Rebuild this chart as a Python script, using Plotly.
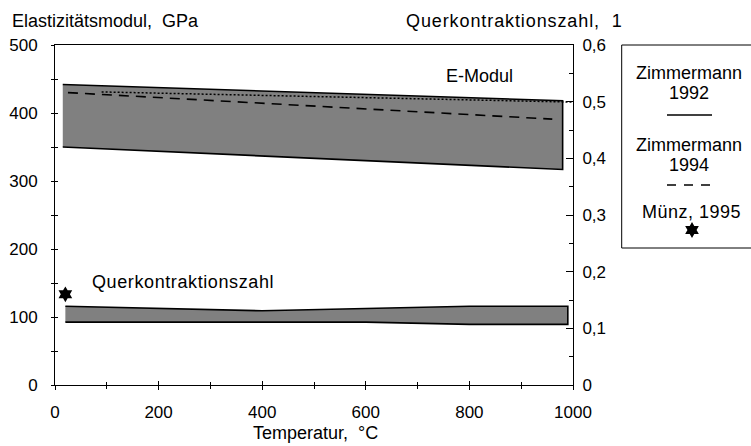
import plotly.graph_objects as go

# Elastizitätsmodul band (GPa) versus temperature (°C)
e_temp = [15, 980]
e_upper = [442, 418]
e_lower = [350, 317]

# Zimmermann 1994 (dashed) and an additional dotted curve, GPa
z94_temp = [25, 960]
z94_e = [430, 391]
dot_temp = [90, 1000]
dot_e = [431, 416]

# Querkontraktionszahl band (dimensionless)
nu_temp_upper = [20, 400, 800, 990]
nu_upper = [0.139, 0.131, 0.139, 0.139]
nu_temp_lower = [20, 600, 800, 990]
nu_lower = [0.111, 0.111, 0.107, 0.107]

# Münz, 1995
muenz_temp = [20]
muenz_nu = [0.16]

# Axis ticks
x_ticks = [0, 200, 400, 600, 800, 1000]
x_minor = [100, 300, 500, 700, 900]
y_ticks = [0, 100, 200, 300, 400, 500]
y_minor = [50, 150, 250, 350, 450]
nu_ticks = [0, 0.1, 0.2, 0.3, 0.4, 0.5, 0.6]
nu_ticktext = ["0", "0,1", "0,2", "0,3", "0,4", "0,5", "0,6"]
nu_minor = [0.05, 0.15, 0.25, 0.35, 0.45, 0.55]

FONT = "Liberation Sans, Arial, sans-serif"
FS = 17      # tick labels
FT = 18      # titles and labels
W, H = 751, 446
ML, MT, MB = 55, 45, 61
PW, PH = W - ML, H - MT - MB
XDOM = 518 / PW

fig = go.Figure()

# E-Modul band as a closed polygon
fig.add_trace(go.Scatter(
    x=e_temp + e_temp[::-1], y=e_upper + e_lower[::-1],
    fill="toself", fillcolor="#808080", mode="lines",
    line=dict(color="black", width=1.6), xaxis="x2", yaxis="y3",
    hoverinfo="skip", showlegend=False))
fig.add_trace(go.Scatter(
    x=dot_temp, y=dot_e, mode="lines",
    line=dict(color="black", width=1.5, dash="2px,2px"),
    xaxis="x2", yaxis="y3", showlegend=False))
fig.add_trace(go.Scatter(
    x=z94_temp, y=z94_e, mode="lines",
    line=dict(color="black", width=1.6, dash="10px,7px"),
    xaxis="x2", yaxis="y3", showlegend=False))

# Querkontraktionszahl band on the right axis
fig.add_trace(go.Scatter(
    x=nu_temp_upper + nu_temp_lower[::-1], y=nu_upper + nu_lower[::-1],
    fill="toself", fillcolor="#808080", mode="lines",
    line=dict(color="black", width=1.6), xaxis="x", yaxis="y2",
    hoverinfo="skip", showlegend=False))
fig.add_trace(go.Scatter(
    x=muenz_temp, y=muenz_nu, mode="markers",
    marker=dict(symbol="hexagram", size=12, color="black"),
    xaxis="x", yaxis="y2", showlegend=False))

# Legend sample star, in a frame measured in pixels
fig.add_trace(go.Scatter(
    x=[692], y=[230], mode="markers",
    marker=dict(symbol="hexagram", size=12, color="black"),
    xaxis="x4", yaxis="y4", showlegend=False))

axis_common = dict(showgrid=False, zeroline=False, linecolor="black", automargin=False,
                   tickcolor="black", tickfont=dict(family=FONT, size=FS, color="black"))

fig.update_layout(
    width=W, height=H, margin=dict(l=ML, r=0, t=MT, b=MB, autoexpand=False),
    paper_bgcolor="white", plot_bgcolor="white",
    font=dict(family=FONT, size=FS, color="black"),
    xaxis=dict(domain=[0, XDOM], range=[0, 1000], anchor="y",
               tickmode="array", tickvals=x_ticks, ticks="outside", ticklen=4,
               minor=dict(tickmode="array", tickvals=x_minor, ticks="outside", ticklen=3, tickcolor="black"),
               showline=True, mirror=True, linewidth=1, ticklabelstandoff=8, **axis_common),
    xaxis2=dict(domain=[0, XDOM], range=[0, 1000], anchor="y", overlaying="x",
                tickmode="array", tickvals=x_ticks, ticks="inside", ticklen=4,
                minor=dict(tickmode="array", tickvals=x_minor, ticks="inside", ticklen=3, tickcolor="black"),
                showticklabels=False, showline=False, **axis_common),
    yaxis=dict(domain=[0, 1], range=[0, 500], anchor="x",
               tickmode="array", tickvals=y_ticks, ticks="outside", ticklen=3,
               minor=dict(tickmode="array", tickvals=y_minor, ticks="outside", ticklen=3, tickcolor="black"),
               showline=True, linewidth=1, ticklabelstandoff=10, **axis_common),
    yaxis3=dict(domain=[0, 1], range=[0, 500], anchor="x2", overlaying="y", side="left",
                tickmode="array", tickvals=y_ticks, ticks="inside", ticklen=3,
                minor=dict(tickmode="array", tickvals=y_minor, ticks="inside", ticklen=3, tickcolor="black"),
                showticklabels=False, showline=False, **axis_common),
    yaxis2=dict(domain=[0, 1], range=[0, 0.6], anchor="x", overlaying="y", side="right",
                tickmode="array", tickvals=nu_ticks, ticktext=nu_ticktext, ticks="inside", ticklen=7,
                minor=dict(tickmode="array", tickvals=nu_minor, ticks="inside", ticklen=4, tickcolor="black"),
                showline=True, linewidth=1, ticklabelstandoff=5, **axis_common),
    xaxis4=dict(domain=[(621.7 - ML) / PW, 1], range=[621.7, 751], anchor="y4",
                visible=False, fixedrange=True, automargin=False),
    yaxis4=dict(domain=[(H - MB - 248) / PH, 1], range=[248, 45], anchor="x4",
                visible=False, fixedrange=True, automargin=False),
)

def px_x(px):
    return (px - ML) / PW

def px_y(py):
    return (H - MB - py) / PH

def spaced(text, px):
    return f'<span style="letter-spacing:{px}px">{text}</span>'

annots = [
    dict(text="Elastizitätsmodul,  GPa", x=px_x(10), y=px_y(21), xanchor="left"),
    dict(text=spaced("Querkontraktionszahl,  1", 0.9), x=px_x(404), y=px_y(21), xanchor="left"),
    dict(text="Temperatur,  °C", x=px_x(315), y=px_y(433), xanchor="center"),
    dict(text="Zimmermann", x=px_x(689), y=px_y(73), xanchor="center"),
    dict(text="1992", x=px_x(689), y=px_y(93), xanchor="center"),
    dict(text="Zimmermann", x=px_x(689), y=px_y(145), xanchor="center"),
    dict(text="1994", x=px_x(689), y=px_y(165), xanchor="center"),
    dict(text=spaced("Münz, 1995", 0.5), x=px_x(691), y=px_y(212), xanchor="center"),
]
for a in annots:
    fig.add_annotation(xref="paper", yref="paper", yanchor="middle", showarrow=False,
                       font=dict(family=FONT, size=FT, color="black"), **a)

fig.add_annotation(text="E-Modul", x=820, y=455, xref="x", yref="y", showarrow=False,
                   xanchor="center", yanchor="middle", font=dict(family=FONT, size=FT, color="black"))
fig.add_annotation(text=spaced("Querkontraktionszahl", 0.6), x=67, y=152, xref="x", yref="y",
                   showarrow=False, xanchor="left", yanchor="middle",
                   font=dict(family=FONT, size=FT, color="black"))

# Legend frame and line samples
fig.add_shape(type="rect", xref="paper", yref="paper",
              x0=px_x(621.7), x1=px_x(753), y0=px_y(248), y1=px_y(45),
              line=dict(color="black", width=1))
fig.add_shape(type="line", xref="paper", yref="paper",
              x0=px_x(667), x1=px_x(712), y0=px_y(115), y1=px_y(115),
              line=dict(color="black", width=1.6))
fig.add_shape(type="line", xref="paper", yref="paper",
              x0=px_x(667), x1=px_x(712), y0=px_y(185), y1=px_y(185),
              line=dict(color="black", width=1.6, dash="9px,8px"))

fig.write_html("out.html")
